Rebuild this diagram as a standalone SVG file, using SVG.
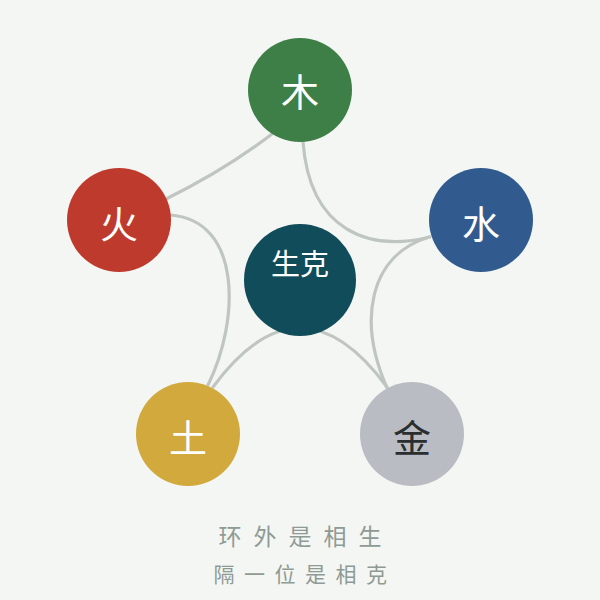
<svg xmlns="http://www.w3.org/2000/svg" width="600" height="600" viewBox="0 0 600 600">
<style>
.bg{fill:#f3f6f3}
.link{fill:none;stroke:#bfc6c1;stroke-width:3.2;stroke-linecap:round}
.lbl{font-family:"Noto Sans CJK SC","Noto Sans CJK JP",sans-serif;font-size:38px;fill:#ffffff;text-anchor:middle}
.cap{font-family:"Noto Sans CJK SC","Noto Sans CJK JP",sans-serif;fill:#8f9a95;text-anchor:middle}
</style>
<rect class="bg" x="0" y="0" width="600" height="600"/>
<g id="connectors">
<path class="link" d="M272,134 Q225,170 166,199"/>
<path class="link" d="M303,142 C310,232 370,252 430,237"/>
<path class="link" d="M429,237 C368,256 358,322 387,388"/>
<path class="link" d="M213,387 Q300,269 387,387"/>
<path class="link" d="M170,215 C242,220 240,320 208,385"/>
</g>
<g id="node-mu">
<circle cx="300" cy="90" r="52" fill="#3d7f47"/>
<text class="lbl" x="300" y="106">木</text>
</g>
<g id="node-huo">
<circle cx="119" cy="220" r="52" fill="#be3a2c"/>
<text class="lbl" x="119" y="238">火</text>
</g>
<g id="node-shui">
<circle cx="481" cy="220" r="52" fill="#315b8f"/>
<text class="lbl" x="481" y="238">水</text>
</g>
<g id="node-tu">
<circle cx="188" cy="434" r="52" fill="#d1a93c"/>
<text class="lbl" x="188" y="452">土</text>
</g>
<g id="node-jin">
<circle cx="412" cy="434" r="52" fill="#b9bdc3"/>
<text class="lbl" x="412" y="452" style="fill:#2a2e2f">金</text>
</g>
<g id="node-center">
<circle cx="300" cy="280" r="56" fill="#104c5a"/>
<text class="lbl" x="300" y="275" style="font-size:29px">生克</text>
</g>
<g id="caption">
<text class="cap" x="306" y="545" style="font-size:23px;letter-spacing:12px">环外是相生</text>
<text class="cap" x="305" y="582" style="font-size:21px;letter-spacing:9.5px">隔一位是相克</text>
</g>
</svg>
